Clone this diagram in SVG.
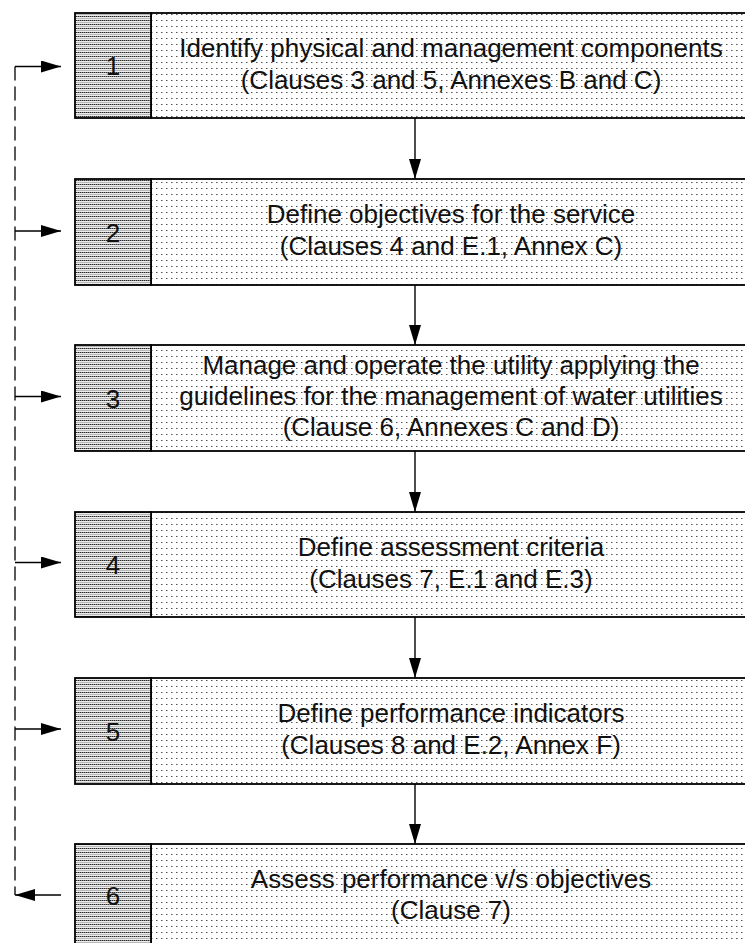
<svg xmlns="http://www.w3.org/2000/svg" width="745" height="943" viewBox="0 0 745 943">
<defs>
<pattern id="dense" width="2" height="4" patternUnits="userSpaceOnUse">
<rect width="2" height="4" fill="#ececec"/>
<rect x="0" y="0" width="1" height="1" fill="#2a2a2a"/>
<rect x="1" y="0" width="1" height="1" fill="#888"/>
<rect x="0" y="2" width="2" height="1" fill="#b8b8b8"/>
</pattern>
<pattern id="sparse" width="5" height="6" patternUnits="userSpaceOnUse">
<rect width="5" height="6" fill="#fff"/>
<rect x="1" y="2" width="1.5" height="1" fill="#555"/>
</pattern>
<marker id="ah" viewBox="0 0 20 12" refX="20" refY="6" markerWidth="20" markerHeight="12" markerUnits="userSpaceOnUse" orient="auto">
<path d="M0,0 L20,6 L0,12 Z" fill="#000"/>
</marker>
<style>
.num{fill:url(#dense);stroke:#000;stroke-width:1.8}
.txt{fill:url(#sparse);stroke:#000;stroke-width:1.8}
text{font-family:"Liberation Sans",Arial,sans-serif;font-size:26px;fill:#111;text-anchor:middle}
.c{fill:none;stroke:#000;stroke-width:1.4}
.d{fill:none;stroke:#222;stroke-width:1.5;stroke-dasharray:14 6}
</style>
</defs>
<g id="node1">
<rect class="txt" x="151" y="13" width="598" height="105"/>
<rect class="num" x="75" y="13" width="76" height="105"/>
<text x="113" y="75">1</text>
<text x="451" y="57">Identify physical and management components</text>
<text x="451" y="89">(Clauses 3 and 5, Annexes B and C)</text>
</g>
<g id="node2">
<rect class="txt" x="151" y="179" width="598" height="106"/>
<rect class="num" x="75" y="179" width="76" height="106"/>
<text x="113" y="242">2</text>
<text x="451" y="223">Define objectives for the service</text>
<text x="451" y="255">(Clauses 4 and E.1, Annex C)</text>
</g>
<g id="node3">
<rect class="txt" x="151" y="345" width="598" height="106"/>
<rect class="num" x="75" y="345" width="76" height="106"/>
<text x="113" y="408">3</text>
<text x="451" y="374">Manage and operate the utility applying the</text>
<text x="451" y="405">guidelines for the management of water utilities</text>
<text x="451" y="436">(Clause 6, Annexes C and D)</text>
</g>
<g id="node4">
<rect class="txt" x="151" y="512" width="598" height="105"/>
<rect class="num" x="75" y="512" width="76" height="105"/>
<text x="113" y="574">4</text>
<text x="451" y="556">Define assessment criteria</text>
<text x="451" y="588">(Clauses 7, E.1 and E.3)</text>
</g>
<g id="node5">
<rect class="txt" x="151" y="678" width="598" height="106"/>
<rect class="num" x="75" y="678" width="76" height="106"/>
<text x="113" y="741">5</text>
<text x="451" y="722">Define performance indicators</text>
<text x="451" y="754">(Clauses 8 and E.2, Annex F)</text>
</g>
<g id="node6">
<rect class="txt" x="151" y="844" width="598" height="110"/>
<rect class="num" x="75" y="844" width="76" height="110"/>
<text x="113" y="905">6</text>
<text x="451" y="888">Assess performance v/s objectives</text>
<text x="451" y="919">(Clause 7)</text>
</g>
<g id="connectors">
<line class="c" x1="415" y1="118" x2="415" y2="179" marker-end="url(#ah)"/>
<line class="c" x1="415" y1="285" x2="415" y2="345" marker-end="url(#ah)"/>
<line class="c" x1="415" y1="451" x2="415" y2="512" marker-end="url(#ah)"/>
<line class="c" x1="415" y1="617" x2="415" y2="678" marker-end="url(#ah)"/>
<line class="c" x1="415" y1="784" x2="415" y2="844" marker-end="url(#ah)"/>
<path class="d" d="M15,66.5 V895"/>
<line class="c" x1="15" y1="66.5" x2="61" y2="66.5" marker-end="url(#ah)"/>
<line class="c" x1="15" y1="231" x2="61" y2="231" marker-end="url(#ah)"/>
<line class="c" x1="15" y1="396.5" x2="61" y2="396.5" marker-end="url(#ah)"/>
<line class="c" x1="15" y1="562.5" x2="61" y2="562.5" marker-end="url(#ah)"/>
<line class="c" x1="15" y1="729" x2="61" y2="729" marker-end="url(#ah)"/>
<line class="c" x1="61" y1="895" x2="15" y2="895" marker-end="url(#ah)"/>
</g>
</svg>
